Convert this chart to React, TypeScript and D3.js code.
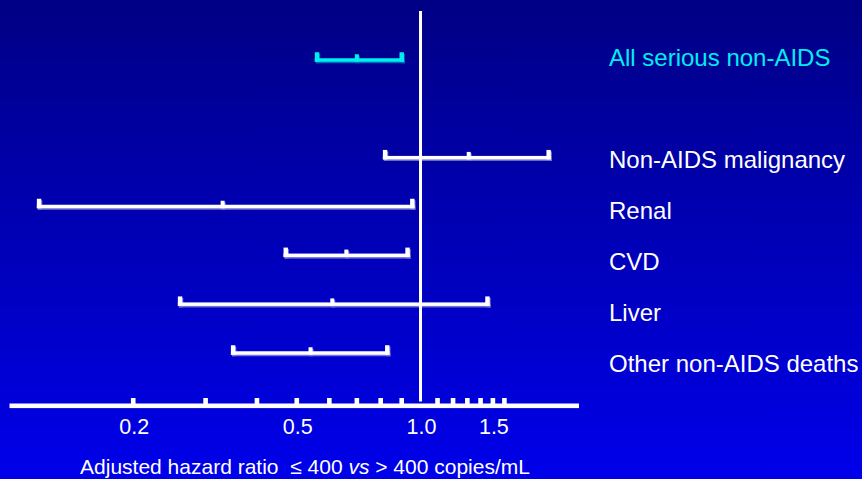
import React from "react";
import * as d3 from "d3";

// ---- data ----
const categories = [
  "All serious non-AIDS",
  "Non-AIDS malignancy",
  "Renal",
  "CVD",
  "Liver",
  "Other non-AIDS deaths",
];
const rowIndex = [0, 2, 3, 4, 5, 6];
const hazardRatio = [0.7, 1.31, 0.33, 0.66, 0.61, 0.54];
const lowerCI = [0.56, 0.82, 0.118, 0.47, 0.26, 0.35];
const upperCI = [0.9, 2.05, 0.955, 0.93, 1.455, 0.83];
const highlighted = [true, false, false, false, false, false];

const axisDomain = [0.1, 2.43];
const minorTicks = [0.2, 0.3, 0.4, 0.5, 0.6, 0.7, 0.8, 0.9, 1.1, 1.2, 1.3, 1.4, 1.5, 1.6];
const tickLabels = [0.2, 0.5, 1.0, 1.5];
const referenceValue = 1.0;
const axisTitle = "Adjusted hazard ratio \u00a0\u2264 400 ";
const axisTitleItalic = "vs";
const axisTitleEnd = " > 400 copies/mL";

const W = 862;
const H = 479;
const FONT = "'Liberation Sans', Arial, Helvetica, sans-serif";
const CYAN = "#00eef0";

export default function App() {
  const x = d3.scaleLog().domain(axisDomain).range([9.5, 579]);
  const yBar = d3.scaleLinear().domain([0, 6]).range([60, 353]);
  const yLabel = d3.scaleLinear().domain([0, 6]).range([57, 363]);
  const axisY = 403.5;

  const rows = categories.map((c, i) => ({
    name: c,
    idx: rowIndex[i],
    hr: hazardRatio[i],
    lo: lowerCI[i],
    hi: upperCI[i],
    hl: highlighted[i],
  }));

  const barShape = (r: any, dx = 0, dy = 0) => {
    const y = yBar(r.idx) + dy;
    const x0 = x(r.lo) + dx;
    const x1 = x(r.hi) + dx;
    const xm = x(r.hr) + dx;
    const lh = 3.5;
    return (
      <>
        <rect x={x0 - 2.2} y={y - lh / 2} width={x1 - x0 + 4.4} height={lh} />
        <rect x={x0 - 2.2} y={y - lh / 2 - 6} width={4.4} height={6 + lh} />
        <rect x={x1 - 2.2} y={y - lh / 2 - 6} width={4.4} height={6 + lh} />
        <rect x={xm - 2} y={y - lh / 2 - 4} width={4} height={4 + lh} />
      </>
    );
  };

  return (
    <svg
      width={W}
      height={H}
      style={{ position: "absolute", left: 0, top: 0, display: "block" }}
      fontFamily={FONT}
    >
      <defs>
        <linearGradient id="bg" x1="0" y1="0" x2="0" y2="1">
          <stop offset="0" stopColor="#000084" />
          <stop offset="1" stopColor="#0000ea" />
        </linearGradient>
      </defs>
      <rect x={0} y={0} width={W} height={H} fill="url(#bg)" />

      {/* reference line */}
      <rect x={x(referenceValue) - 1.5} y={11} width={3} height={axisY - 2 - 11} fill="#ffffff" />

      {/* CI bars */}
      {rows.map((r, i) => (
        <g key={i}>
          <g fill={r.hl ? CYAN : "#ffffff"} opacity={0.45}>
            {barShape(r, 1, 1.5)}
          </g>
          <g fill={r.hl ? CYAN : "#ffffff"}>{barShape(r)}</g>
        </g>
      ))}

      {/* category labels */}
      {rows.map((r, i) => (
        <text
          key={i}
          x={609}
          y={yLabel(r.idx) + 8.5}
          fontSize={24}
          fill={r.hl ? CYAN : "#ffffff"}
        >
          {r.name}
        </text>
      ))}

      {/* axis */}
      <rect x={x(axisDomain[0])} y={axisY} width={x(axisDomain[1]) - x(axisDomain[0])} height={4.6} fill="#ffffff" />
      {minorTicks.map((t, i) => (
        <rect key={i} x={x(t) - 2.3} y={axisY - 5.5} width={4.6} height={6} fill="#ffffff" />
      ))}
      {tickLabels.map((t, i) => (
        <text
          key={i}
          x={x(t) + 1}
          y={434}
          fontSize={21.5}
          fill="#ffffff"
          textAnchor="middle"
        >
          {d3.format(".1f")(t)}
        </text>
      ))}
      <text x={305} y={474} fontSize={21} fill="#ffffff" textAnchor="middle">
        {axisTitle}
        <tspan fontStyle="italic">{axisTitleItalic}</tspan>
        {axisTitleEnd}
      </text>
    </svg>
  );
}
